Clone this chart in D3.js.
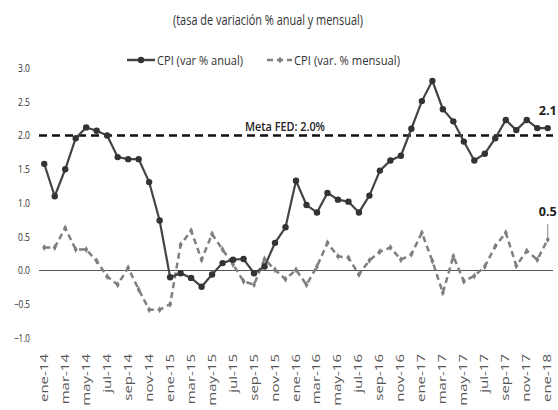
<!DOCTYPE html>
<html>
<head>
<meta charset="utf-8">
<script src="https://cdn.jsdelivr.net/npm/d3@7"></script>
<style>
  body { margin: 0; background: #fff; }
  svg { display: block; font-family: "Open Sans", "Liberation Sans", sans-serif; }
</style>
</head>
<body>
<div id="chart"></div>
<script>
// months ene-14 .. ene-18
let months = ["ene","feb","mar","abr","may","jun","jul","ago","sep","oct","nov","dic"];
let categories = [];
for (let yr = 14; yr <= 18; yr++) {
  months.forEach(m => { if (yr < 18 || m == "ene") categories.push(m + "-" + yr); });
}

let cpi_anual = [1.58, 1.10, 1.50, 1.96, 2.12, 2.07, 2.00, 1.68, 1.65, 1.65, 1.31, 0.74,
                 -0.10, -0.04, -0.11, -0.24, -0.06, 0.11, 0.16, 0.17, -0.04, 0.06, 0.41, 0.64,
                 1.33, 0.97, 0.86, 1.15, 1.05, 1.02, 0.86, 1.11, 1.48, 1.63, 1.70, 2.10,
                 2.51, 2.81, 2.39, 2.21, 1.91, 1.63, 1.73, 1.96, 2.23, 2.08, 2.23, 2.11,
                 2.11];

let cpi_mensual = [0.34, 0.34, 0.63, 0.31, 0.31, 0.14, -0.09, -0.21, 0.04, -0.28, -0.58, -0.58,
                   -0.50, 0.38, 0.59, 0.16, 0.54, 0.31, 0.09, -0.16, -0.21, 0.17, 0.01, -0.13,
                   0.01, -0.21, 0.06, 0.41, 0.21, 0.19, -0.06, 0.15, 0.28, 0.34, 0.16, 0.24,
                   0.56, 0.14, -0.33, 0.21, -0.16, -0.08, 0.06, 0.36, 0.56, 0.07, 0.29, 0.16,
                   0.46];

let meta_fed = 2.0;
let y_ticks = [3.0, 2.5, 2.0, 1.5, 1.0, 0.5, 0.0, -0.5, -1.0];
let x_labels = categories.filter((d, i) => i % 2 == 0);

let width = 558, height = 410;
let svg = d3.select("#chart").append("svg")
            .attr("width", width)
            .attr("height", height);

let x = d3.scalePoint()
          .domain(categories)
          .range([39, 553])
          .padding(0.5);

let y = d3.scaleLinear()
          .domain([-1, 3])
          .range([338, 68]);

// title
svg.append("text")
   .attr("x", 268).attr("y", 25)
   .attr("text-anchor", "middle")
   .attr("font-size", 14)
   .attr("fill", "#333")
   .attr("textLength", 190)
   .attr("lengthAdjust", "spacingAndGlyphs")
   .text("(tasa de variación % anual y mensual)");

// y axis labels (no line)
svg.append("g")
   .selectAll("text")
   .data(y_ticks)
   .enter().append("text")
     .attr("x", 30)
     .attr("y", d => y(d))
     .attr("dy", "0.35em")
     .attr("text-anchor", "end")
     .attr("font-size", 11)
     .attr("fill", "#333")
     .attr("textLength", d => d < 0 ? 16 : 12)
     .attr("lengthAdjust", "spacingAndGlyphs")
     .text(d => d3.format(".1f")(d));

// zero line
svg.append("line")
   .attr("x1", 39).attr("x2", 553)
   .attr("y1", y(0)).attr("y2", y(0))
   .attr("stroke", "#555")
   .attr("stroke-width", 1);

// x labels, rotated
svg.append("g")
   .selectAll("text")
   .data(x_labels)
   .enter().append("text")
     .attr("transform", d => "translate(" + x(d) + ",354) rotate(-90) scale(1.5,1)")
     .attr("text-anchor", "end")
     .attr("dy", "0.35em")
     .attr("font-size", 10)
     .attr("fill", "#555")
     .text(d => d);

// target line
svg.append("line")
   .attr("x1", 39).attr("x2", 553)
   .attr("y1", y(meta_fed)).attr("y2", y(meta_fed))
   .attr("stroke", "#111")
   .attr("stroke-width", 2.5)
   .attr("stroke-dasharray", "8,5");

svg.append("text")
   .attr("x", 285).attr("y", 131)
   .attr("text-anchor", "middle")
   .attr("font-size", 13)
   .attr("font-weight", 600)
   .attr("fill", "#222")
   .attr("textLength", 80)
   .attr("lengthAdjust", "spacingAndGlyphs")
   .text("Meta FED: 2.0%");

// monthly series (dashed)
let line = d3.line()
             .x((d, i) => x(categories[i]))
             .y(d => y(d));

svg.append("path")
   .datum(cpi_mensual)
   .attr("fill", "none")
   .attr("stroke", "#7f7f7f")
   .attr("stroke-width", 2.5)
   .attr("stroke-dasharray", "6,4")
   .attr("d", line);

svg.append("g")
   .selectAll("path")
   .data(cpi_mensual)
   .enter().append("path")
     .attr("d", d3.symbol().type(d3.symbolDiamond).size(14))
     .attr("transform", (d, i) => "translate(" + x(categories[i]) + "," + y(d) + ")")
     .attr("fill", "#7f7f7f");

// annual series
svg.append("path")
   .datum(cpi_anual)
   .attr("fill", "none")
   .attr("stroke", "#444")
   .attr("stroke-width", 2.2)
   .attr("d", line);

svg.append("g")
   .selectAll("circle")
   .data(cpi_anual)
   .enter().append("circle")
     .attr("cx", (d, i) => x(categories[i]))
     .attr("cy", d => y(d))
     .attr("r", 3.2)
     .attr("fill", "#333");

// end labels
let last = categories.length - 1;
svg.append("text")
   .attr("x", x(categories[last])).attr("y", 115)
   .attr("text-anchor", "middle")
   .attr("font-size", 13)
   .attr("font-weight", "bold")
   .attr("fill", "#222")
   .attr("textLength", 18)
   .attr("lengthAdjust", "spacingAndGlyphs")
   .text(d3.format(".1f")(cpi_anual[last]));

svg.append("text")
   .attr("x", x(categories[last])).attr("y", 216)
   .attr("text-anchor", "middle")
   .attr("font-size", 13)
   .attr("font-weight", "bold")
   .attr("fill", "#222")
   .attr("textLength", 18)
   .attr("lengthAdjust", "spacingAndGlyphs")
   .text(d3.format(".1f")(cpi_mensual[last]));

svg.append("line")
   .attr("x1", x(categories[last])).attr("x2", x(categories[last]))
   .attr("y1", 224).attr("y2", y(cpi_mensual[last]) - 3)
   .attr("stroke", "#888")
   .attr("stroke-width", 1);

// legend
let legend = svg.append("g");
legend.append("line")
      .attr("x1", 127).attr("x2", 155).attr("y1", 60).attr("y2", 60)
      .attr("stroke", "#444").attr("stroke-width", 2.5);
legend.append("circle")
      .attr("cx", 141).attr("cy", 60).attr("r", 3.2).attr("fill", "#333");
legend.append("text")
      .attr("x", 157).attr("y", 60).attr("dy", "0.35em")
      .attr("font-size", 13).attr("fill", "#333")
      .attr("textLength", 86).attr("lengthAdjust", "spacingAndGlyphs")
      .text("CPI (var % anual)");

legend.append("line")
      .attr("x1", 267).attr("x2", 292).attr("y1", 60).attr("y2", 60)
      .attr("stroke", "#7f7f7f").attr("stroke-width", 2.5)
      .attr("stroke-dasharray", "6,4");
legend.append("path")
      .attr("d", d3.symbol().type(d3.symbolDiamond).size(14))
      .attr("transform", "translate(280,60)")
      .attr("fill", "#7f7f7f");
legend.append("text")
      .attr("x", 294).attr("y", 60).attr("dy", "0.35em")
      .attr("font-size", 13).attr("fill", "#333")
      .attr("textLength", 106).attr("lengthAdjust", "spacingAndGlyphs")
      .text("CPI (var. % mensual)");
</script>
</body>
</html>
